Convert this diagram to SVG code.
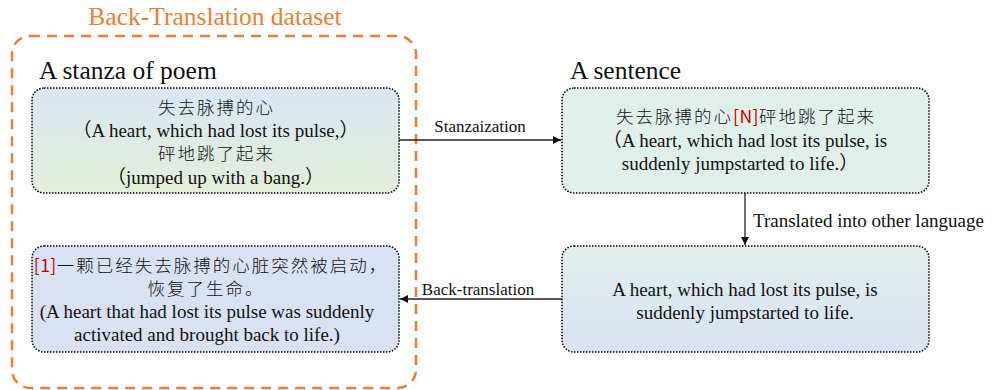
<svg xmlns="http://www.w3.org/2000/svg" width="992" height="390" viewBox="0 0 992 390">
<style>
.box{stroke:#000;stroke-width:1.5;stroke-dasharray:1.5 1.5}
.en{font-family:"Liberation Serif","Noto Sans CJK SC",serif;font-size:19px;fill:#111}
.cjk{font-family:"Noto Sans CJK SC",sans-serif;font-size:17.5px;font-weight:300;fill:#111;letter-spacing:2px}
.red{font-family:"Noto Sans CJK SC",sans-serif;fill:#C00000;font-weight:400;letter-spacing:0.5px}
.lbl{font-family:"Liberation Serif",serif;font-size:17px;fill:#111}
.head{font-family:"Liberation Serif",serif;font-size:25.5px;fill:#111}
.c{text-anchor:middle}
.conn{stroke:#222;stroke-width:1.3;fill:none}
</style>
<defs>
<linearGradient id="g1" x1="0" y1="0" x2="0" y2="1">
<stop offset="0" stop-color="#DAE6F3"/><stop offset="1" stop-color="#E3EFD8"/>
</linearGradient>
<linearGradient id="g4" x1="0" y1="0" x2="0" y2="1">
<stop offset="0" stop-color="#E1EFEA"/><stop offset="1" stop-color="#D9E2F3"/>
</linearGradient>
<marker id="ah" viewBox="0 0 10 10" refX="10" refY="5" markerWidth="8" markerHeight="8" markerUnits="userSpaceOnUse" orient="auto">
<path d="M0,0 L10,5 L0,10 z" fill="#111"/>
</marker>
</defs>

<g id="dataset">
<rect x="12" y="36" width="404" height="352" rx="18" fill="none" stroke="#ED7D31" stroke-width="2.5" stroke-dasharray="10 7"/>
<text x="215" y="25" class="c" style="font-family:'Liberation Serif',serif;font-size:25.5px;fill:#ED7D31">Back-Translation dataset</text>
</g>

<text x="39" y="79" class="head">A stanza of poem</text>
<text x="570" y="79" class="head">A sentence</text>

<g id="connectors">
<line x1="399" y1="140" x2="561" y2="140" class="conn" marker-end="url(#ah)"/>
<text x="480" y="132" class="lbl c">Stanzaization</text>
<line x1="745" y1="193" x2="745" y2="245" class="conn" marker-end="url(#ah)"/>
<text x="753" y="227" class="lbl" style="font-size:19px">Translated into other language</text>
<line x1="562" y1="299" x2="400" y2="299" class="conn" stroke="#444" stroke-width="1.8" marker-end="url(#ah)"/>
<text x="478" y="295" class="lbl c">Back-translation</text>
</g>

<g id="stanza">
<rect x="32" y="88" width="367" height="105" rx="12" fill="url(#g1)" class="box"/>
<text x="216.5" y="114" class="cjk c">失去脉搏的心</text>
<text x="215.5" y="137" class="en c">（A heart, which had lost its pulse,）</text>
<text x="216.5" y="160" class="cjk c">砰地跳了起来</text>
<text x="215.5" y="184" class="en c">（jumped up with a bang.）</text>
</g>

<g id="sentence">
<rect x="562" y="88" width="367" height="105" rx="12" fill="#E1EFEA" class="box"/>
<text x="746" y="123" class="cjk c">失去脉搏的心<tspan class="red">[N]</tspan>砰地跳了起来</text>
<text x="745" y="147" class="en c">（A heart, which had lost its pulse, is</text>
<text x="740" y="170" class="en c">suddenly jumpstarted to life.）</text>
</g>

<g id="translated">
<rect x="562" y="246" width="367" height="106" rx="12" fill="url(#g4)" class="box"/>
<text x="745" y="296" class="en c">A heart, which had lost its pulse, is</text>
<text x="745" y="319" class="en c">suddenly jumpstarted to life.</text>
</g>

<g id="backtranslated">
<rect x="32" y="246" width="367" height="106" rx="12" fill="#D9E2F3" class="box"/>
<text x="211" y="272" class="cjk c"><tspan class="red">[1]</tspan>一颗已经失去脉搏的心脏突然被启动，</text>
<text x="206" y="295" class="cjk c">恢复了生命。</text>
<text x="207" y="318" class="en c">(A heart that had lost its pulse was suddenly</text>
<text x="207" y="341" class="en c">activated and brought back to life.)</text>
</g>
</svg>
